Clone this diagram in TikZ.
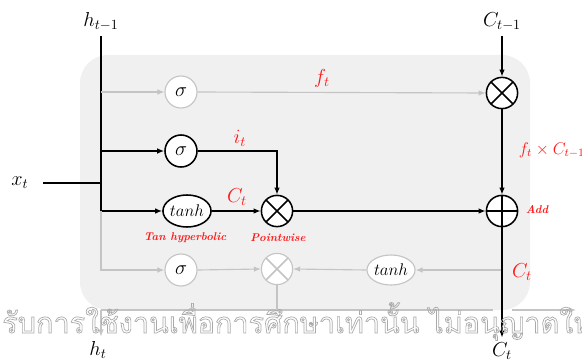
\documentclass[tikz,border=0pt]{standalone}
\usepackage{amsmath,amssymb}
\usepackage{fontspec}
\usepackage{tikz}
\usetikzlibrary{shapes.geometric, arrows.meta, calc, positioning}
\newfontfamily\thaifont[Script=Thai]{Loma}
\definecolor{cellbg}{RGB}{240,240,240}
\definecolor{offline}{RGB}{196,196,196}
\definecolor{note}{RGB}{255,25,25}
\definecolor{wmgray}{RGB}{170,170,170}

\begin{document}
\begin{tikzpicture}[x=0.025cm, y=-0.025cm]
% TikZ styles
\tikzset{
  gate/.style={circle, draw=black, line width=1.1pt, fill=white, minimum size=0.8cm, inner sep=0pt, font=\Large},
  gategray/.style={gate, draw=offline, line width=0.8pt},
  squash/.style={ellipse, draw=black, line width=1.1pt, fill=white, minimum width=1.2cm, minimum height=0.8cm, inner sep=0pt, font=\large},
  squashgray/.style={squash, draw=offline, line width=0.8pt, minimum width=1.05cm, minimum height=0.75cm},
  times/.style={circle, draw=#1, line width=1.1pt, fill=white, minimum size=0.78cm, inner sep=0pt,
    path picture={\draw[#1, line width=1.1pt] (path picture bounding box.north west) -- (path picture bounding box.south east)
      (path picture bounding box.north east) -- (path picture bounding box.south west);}},
  times/.default=black,
  plus/.style={circle, draw=black, line width=1.1pt, fill=white, minimum size=0.78cm, inner sep=0pt,
    path picture={\draw[black, line width=1.1pt] (path picture bounding box.north) -- (path picture bounding box.south)
      (path picture bounding box.west) -- (path picture bounding box.east);}},
  line/.style={line width=1.1pt},
  grayline/.style={draw=offline, line width=0.8pt},
  arrow/.style={-{Latex[length=5pt, width=4pt]}, line width=1.1pt},
  grayarrow/.style={-{Latex[length=5pt, width=4pt]}, draw=offline, line width=0.8pt},
  label/.style={font=\Large},
  rednote/.style={text=note, font=\Large},
  smallnote/.style={text=note, font=\footnotesize\bfseries\itshape}
}
\useasboundingbox (0,0) rectangle (582,360);

% === Zelle ===
\fill[cellbg, rounded corners=0.7cm] (80,55) rectangle (530,310);

% === Ein- und Ausgaenge ===
\node[label] (hprev) at (101,22) {$h_{t-1}$};
\node[label] (cprev) at (502,22) {$C_{t-1}$};
\node[label] (xt) at (20,183) {$x_t$};
\node[label] (hnext) at (98,350) {$h_t$};
\node[label] (cnext) at (502,351) {$C_t$};

% === Gates ===
\node[gategray] (sigf) at (181,92) {$\sigma$};
\node[gate] (sigi) at (181,151) {$\sigma$};
\node[squash] (tanhc) at (187,211) {$tanh$};
\node[times] (mulc) at (277,211) {};
\node[gategray] (sigo) at (181,270) {$\sigma$};
\node[times=offline, line width=0.8pt] (mulh) at (277,269) {};
\node[squashgray] (tanhh) at (391,270) {$tanh$};
\node[times] (mulf) at (502,93) {};
\node[plus] (addc) at (502,211) {};

\coordinate (hjoin) at (hprev.south |- 0,310);
\coordinate (gapL) at (493,310);
\coordinate (gapR) at (512,310);
\coordinate (hout) at (576,310);

% === Pfeile ===
\draw[line] (hprev.south) -- (hprev.south |- tanhc.west);
\draw[line, shorten <=7pt] (xt.east) -- (hprev.south |- xt.east);
\draw[grayarrow] (hprev.south |- sigf.west) -- (sigf.west);
\draw[arrow] (hprev.south |- sigi.west) -- (sigi.west);
\draw[arrow] (hprev.south |- tanhc.west) -- (tanhc.west);
\draw[grayarrow] (hprev.south |- tanhc.west) |- (sigo.west);

\draw[grayarrow] (sigf.east) -- (mulf.west);
\draw[arrow] (sigi.east) -| (mulc.north);
\draw[arrow] (tanhc.east) -- (mulc.west);
\draw[arrow] (mulc.east) -- (addc.west);

\draw[arrow] (cprev.south) -- (mulf.north);
\draw[arrow] (mulf.south) -- (addc.north);

% === Ausgang (grau) ===
\draw[grayarrow] (addc.south |- tanhh.east) -- (tanhh.east);
\draw[grayarrow] (tanhh.west) -- (mulh.east);
\draw[grayarrow] (sigo.east) -- (mulh.west);
\draw[grayline] (mulh.south) -- (mulh.south |- hjoin);
\draw[grayline] (hjoin) -- (gapL);
\draw[grayarrow] (gapR) -- (hout);
\draw[grayarrow] (hjoin) -- (hjoin |- hnext.north);
\draw[arrow] (addc.south) -- (cnext.north);

% === Beschriftungen ===
\node[rednote] (ft) at (322,78) {$f_t$};
\node[rednote] (it) at (240,138) {$i_t$};
\node[rednote] (ctil) at (237,197) {$C_t$};
\node[rednote] (ctout) at (522,272) {$C_t$};
\node[rednote, font=\large, anchor=west] (fc) at (514,150) {$f_t \times C_{t-1}$};
\node[smallnote] (tanhnote) at (185,238) {Tan hyperbolic};
\node[smallnote] (pwnote) at (278,238) {Pointwise};
\node[smallnote] (addnote) at (537,210) {Add};

% === Wasserzeichen ===
\node[anchor=base west, text=wmgray, inner sep=0pt] (wmark) at (2,333)
  {\special{pdf:literal direct 1 Tr 0.5 w}\thaifont\fontsize{20.5}{21}\selectfont รับการใช้งานเพื่อการศึกษาเท่านั้น ไม่อนุญาตให\special{pdf:literal direct 0 Tr}};
\end{tikzpicture}
\end{document}
